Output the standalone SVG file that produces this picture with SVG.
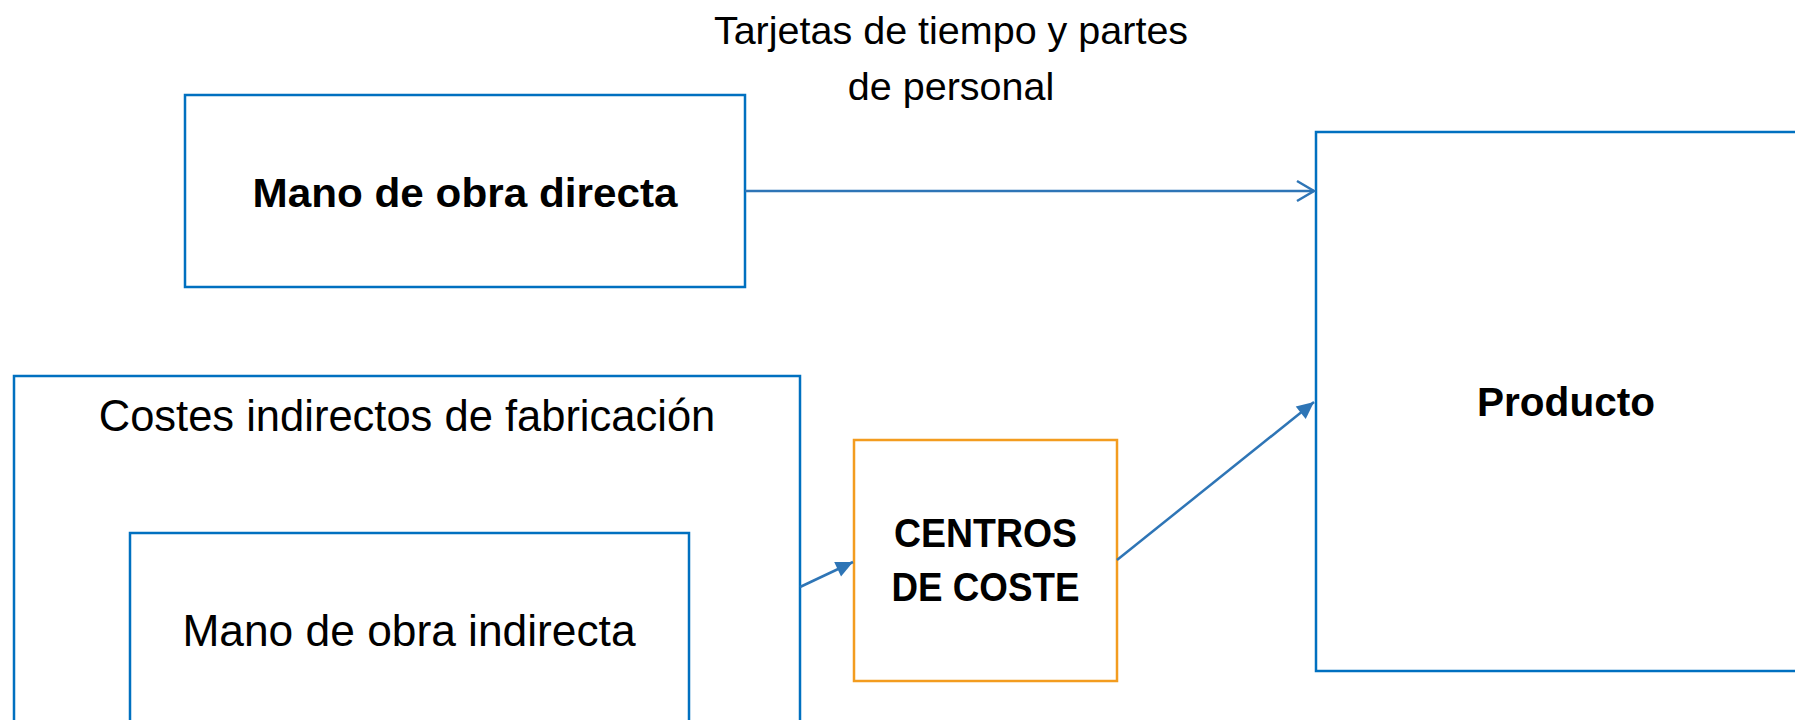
<svg xmlns="http://www.w3.org/2000/svg" width="1795" height="720" viewBox="0 0 1795 720">
<style>
.box{fill:#fff;stroke:#0070C0;stroke-width:2.5}
.obox{fill:#fff;stroke:#F39C1F;stroke-width:2.5}
.t{font-family:"Liberation Sans",Arial,sans-serif;fill:#000;text-anchor:middle}
.b{font-weight:bold}
.c{fill:none;stroke:#2E75B6;stroke-width:2.5}
</style>
<defs>
<marker id="open" markerUnits="userSpaceOnUse" markerWidth="24" markerHeight="24" viewBox="-20 -12 24 24" refX="0" refY="0" orient="auto">
<path d="M-17,-10 L0,0 L-17,10" fill="none" stroke="#2E75B6" stroke-width="2.5"/>
</marker>
<marker id="fill" markerUnits="userSpaceOnUse" markerWidth="24" markerHeight="24" viewBox="-20 -12 24 24" refX="0" refY="0" orient="auto">
<path d="M0,0 L-17,-8 L-17,8 Z" fill="#2E75B6"/>
</marker>
</defs>
<text class="t" x="951" y="44" font-size="39.5">Tarjetas de tiempo y partes</text>
<text class="t" x="951" y="100" font-size="39.5">de personal</text>
<g id="costes">
<rect class="box" x="14" y="376" width="786" height="400"/>
<text class="t" x="407" y="431" font-size="43.5">Costes indirectos de fabricación</text>
</g>
<g id="indirecta">
<rect class="box" x="130" y="533" width="559" height="300"/>
<text class="t" x="409" y="646" font-size="44.3">Mano de obra indirecta</text>
</g>
<g id="directa">
<rect class="box" x="185" y="95" width="560" height="192"/>
<text class="t b" x="465" y="207" font-size="41" textLength="425" lengthAdjust="spacingAndGlyphs">Mano de obra directa</text>
</g>
<g id="centros">
<rect class="obox" x="854" y="440" width="263" height="241"/>
<text class="t b" x="985.5" y="547" font-size="40" textLength="183" lengthAdjust="spacingAndGlyphs">CENTROS</text>
<text class="t b" x="985.5" y="601" font-size="40" textLength="188" lengthAdjust="spacingAndGlyphs">DE COSTE</text>
</g>
<g id="producto">
<rect class="box" x="1316" y="132" width="600" height="539"/>
<text class="t b" x="1566" y="416" font-size="40" textLength="178" lengthAdjust="spacingAndGlyphs">Producto</text>
</g>
<g id="connectors">
<line class="c" x1="745" y1="191" x2="1314" y2="191" marker-end="url(#open)"/>
<line class="c" x1="800" y1="587" x2="853" y2="562" marker-end="url(#fill)"/>
<line class="c" x1="1117" y1="560" x2="1314" y2="402" marker-end="url(#fill)"/>
</g>
</svg>
